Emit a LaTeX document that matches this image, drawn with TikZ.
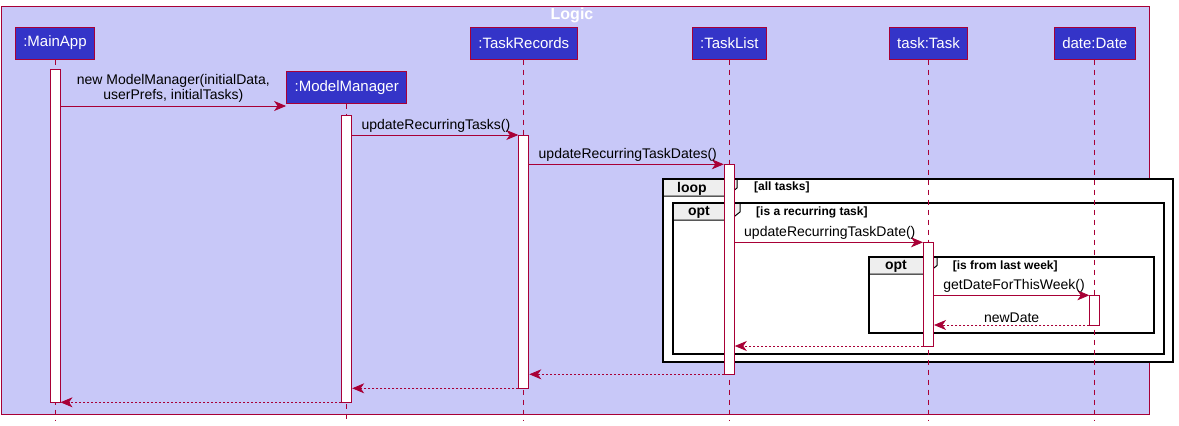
\documentclass[tikz,border=0pt]{standalone}
\usepackage{fontspec}
\setmainfont{Liberation Sans}
\usepackage{tikz}
\usetikzlibrary{arrows.meta,positioning,calc}
\definecolor{umlred}{HTML}{A80036}
\definecolor{umlblue}{HTML}{3434C8}
\definecolor{umlbg}{HTML}{C8C8F8}
\definecolor{umltab}{HTML}{EEEEEE}
\tikzstyle{actor}=[draw=umlred,fill=umlblue,text=white,font=\fontsize{15}{17}\selectfont,minimum height=32pt,inner xsep=8pt,line width=1pt]
\tikzstyle{lifeline}=[draw=umlred,dash pattern=on 5pt off 5pt,line width=0.8pt]
\tikzstyle{act}=[draw=umlred,fill=white,minimum width=10pt,inner sep=0pt,line width=1pt]
\tikzstyle{msg}=[draw=umlred,line width=0.8pt,-{Stealth[length=12pt,width=10pt,inset=3.5pt]}]
\tikzstyle{ret}=[msg,dash pattern=on 2pt off 2pt]
\tikzstyle{msglabel}=[font=\fontsize{14}{15.6}\selectfont,inner sep=0pt]
\tikzstyle{frag}=[draw=black,line width=1.8pt]
\tikzstyle{fragtab}=[draw=black,fill=umltab,line width=1pt]
\tikzstyle{tablabel}=[font=\bfseries\fontsize{14}{16}\selectfont,inner sep=0pt]
\tikzstyle{guard}=[font=\bfseries\fontsize{12}{14}\selectfont,anchor=west,inner sep=0pt]

\begin{document}
\begin{tikzpicture}[x=1pt,y=-1pt]
    \useasboundingbox (0,0) rectangle (1179,426);
    \draw[draw=umlred,fill=umlbg,line width=1pt] (1.3,6) rectangle (1149,414.3);
    \node[font=\bfseries\fontsize{16}{18}\selectfont,text=white] (title) at (572,15.5) {Logic};

    % combined fragments
    \draw[frag,fill=white] (662.8,179.3) rectangle (1172.6,361.7);
    \draw[fragtab] (662.8,179.3) -- (737,179.3) -- (737,188) -- (727,196) -- (662.8,196) -- cycle;
    \draw[frag] (662.8,179.3) rectangle (1172.6,361.7);
    \node[tablabel] (looplabel) at (692,188.5) {loop};
    \node[guard] (loopguard) at (754,187.5) {[all tasks]};

    \draw[frag] (672.9,202.7) rectangle (1164,354.3);
    \draw[fragtab] (672.9,202.7) -- (740,202.7) -- (740,212) -- (730,220) -- (672.9,220) -- cycle;
    \draw[frag] (672.9,202.7) rectangle (1164,354.3);
    \node[tablabel] (optlabel) at (699,212.5) {opt};
    \node[guard] (optguard) at (756,212) {[is a recurring task]};

    \draw[frag] (869,257.3) rectangle (1154,332.7);
    \draw[fragtab] (869,257.3) -- (937,257.3) -- (937,265.5) -- (926.5,274) -- (869,274) -- cycle;
    \draw[frag] (869,257.3) rectangle (1154,332.7);
    \node[tablabel] (innerlabel) at (896,266.5) {opt};
    \node[guard] (innerguard) at (952.7,266) {[is from last week]};

    % participants
    \node[actor] (mainapp) at (55,43) {:MainApp};
    \node[actor] (mm) at (346.7,87.2) {:ModelManager};
    \node[actor] (records) at (523.8,43) {:TaskRecords};
    \node[actor] (tasklist) at (729.3,43) {:TaskList};
    \node[actor] (task) at (928.5,43) {task:Task};
    \node[actor] (date) at (1094.8,43) {date:Date};

    \coordinate (bottom) at (0,421);
    \foreach \p in {mainapp,mm,records,tasklist,task,date}
        \draw[lifeline] (\p.south) -- (\p.south |- bottom);

    % activations
    \node[act,minimum height=333pt] (actmain) at (mainapp.south |- 0,235.8) {};
    \node[act,minimum height=287.3pt] (actmm) at (mm.south |- 0,258.65) {};
    \node[act,minimum height=253.3pt] (actrec) at (records.south |- 0,261.65) {};
    \node[act,minimum height=210pt] (acttl) at (tasklist.south |- 0,269.3) {};
    \node[act,minimum height=103.7pt] (acttask) at (task.south |- 0,294.15) {};
    \node[act,minimum height=29.7pt] (actdate) at (date.south |- 0,310.15) {};

    % messages
    \coordinate (y1) at (0,106);
    \coordinate (y2) at (0,135);
    \coordinate (y3) at (0,164.3);
    \coordinate (y4) at (0,242.3);
    \coordinate (y5) at (0,295.3);
    \coordinate (r1) at (0,325);
    \coordinate (r2) at (0,346);
    \coordinate (r3) at (0,374.3);
    \coordinate (r4) at (0,388.3);
    \coordinate (r5) at (0,402.3);

    \draw[msg] (actmain.east |- y1) -- node[msglabel,above=3pt,align=center] {new ModelManager(initialData,\\userPrefs, initialTasks)} (mm.west |- y1);
    \draw[msg] (actmm.east |- y2) node[msglabel,above right=2pt and 9pt] {updateRecurringTasks()} -- (actrec.west |- y2);
    \draw[msg] (actrec.east |- y3) node[msglabel,above right=2pt and 9pt] {updateRecurringTaskDates()} -- (acttl.west |- y3);
    \draw[msg] (acttl.east |- y4) node[msglabel,above right=2pt and 9pt] {updateRecurringTaskDate()} -- (acttask.west |- y4);
    \draw[msg] (acttask.east |- y5) node[msglabel,above right=2pt and 9pt] {getDateForThisWeek()} -- (actdate.west |- y5);
    \draw[ret] (actdate.west |- r1) -- node[msglabel,above=2pt] {newDate} (acttask.east |- r1);
    \draw[ret] (acttask.west |- r2) -- (acttl.east |- r2);
    \draw[ret] (acttl.west |- r3) -- (actrec.east |- r3);
    \draw[ret] (actrec.west |- r4) -- (actmm.east |- r4);
    \draw[ret] (actmm.west |- r5) -- (actmain.east |- r5);
\end{tikzpicture}
\end{document}
